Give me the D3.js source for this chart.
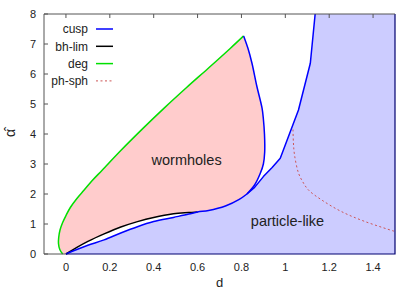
<!DOCTYPE html>
<html>
<head>
<meta charset="utf-8">
<script src="https://cdn.jsdelivr.net/npm/d3@7"></script>
<style>
  body { margin: 0; background: #fff; }
  text { font-family: "Liberation Sans", Arial, Helvetica, sans-serif; fill: #222; }
</style>
</head>
<body>
<div id="chart"></div>
<script>
// data: [d, alpha-hat]
let degCurve = [[-0.015, 0], [-0.028, 0.15], [-0.034, 0.35], [-0.033, 0.55], [-0.027, 0.8],
  [-0.015, 1.05], [0.0, 1.28], [0.02, 1.55], [0.05, 1.85], [0.083, 2.13], [0.12, 2.45],
  [0.166, 2.8], [0.25, 3.45], [0.35, 4.18], [0.45, 4.88], [0.55, 5.55], [0.65, 6.2],
  [0.75, 6.86], [0.81, 7.27]];
let bhCurve = [[0, 0], [0.05, 0.22], [0.1, 0.42], [0.174, 0.67], [0.25, 0.9], [0.326, 1.08],
  [0.4, 1.22], [0.49, 1.34], [0.56, 1.38], [0.6, 1.4]];
let cuspLow = [[0, 0], [0.05, 0.15], [0.1, 0.29], [0.174, 0.47], [0.25, 0.7], [0.326, 0.91],
  [0.4, 1.08], [0.49, 1.22], [0.56, 1.33], [0.6, 1.4], [0.65, 1.45], [0.727, 1.6],
  [0.79, 1.82], [0.825, 2.0]];
let cuspInner = [[0.825, 2.0], [0.86, 2.3], [0.886, 2.69], [0.9, 3.0], [0.906, 3.4], [0.905, 4.0],
  [0.9, 4.5], [0.894, 4.86], [0.87, 5.6], [0.848, 6.36], [0.83, 6.85], [0.81, 7.27]];
let cuspOuter = [[0.825, 2.0], [0.86, 2.22], [0.9, 2.58], [0.94, 2.88], [0.977, 3.19],
  [1.06, 4.8], [1.114, 6.36], [1.136, 8]];
let phCurve = [[1.035, 4.15], [1.037, 3.7], [1.042, 3.3], [1.06, 2.7], [1.08, 2.4], [1.106, 2.13],
  [1.166, 1.8], [1.257, 1.41], [1.364, 1.08], [1.5, 0.75]];

let xTicks = [0, 0.2, 0.4, 0.6, 0.8, 1, 1.2, 1.4];
let yTicks = [0, 1, 2, 3, 4, 5, 6, 7, 8];
let legendNames = ["cusp", "bh-lim", "deg", "ph-sph"];
let legendColors = ["#0000ff", "#000000", "#00e000", "#cc5555"];

let svgWidth = 417;
let svgHeight = 292;
let margin = { top: 14, right: 22, bottom: 38, left: 44 };
let width = svgWidth - margin.left - margin.right;
let height = svgHeight - margin.top - margin.bottom;

let svg = d3.select("#chart").append("svg")
    .attr("width", svgWidth)
    .attr("height", svgHeight);

let g = svg.append("g")
    .attr("transform", `translate(${margin.left}, ${margin.top})`);

let x = d3.scaleLinear().domain([-0.1, 1.5]).range([0, width]);
let y = d3.scaleLinear().domain([0, 8]).range([height, 0]);

let smooth = d3.line().x(p => x(p[0])).y(p => y(p[1])).curve(d3.curveCatmullRom);
let straight = d3.line().x(p => x(p[0])).y(p => y(p[1]));

// join several path strings into one outline
function joinPaths(parts) {
  return parts.map((s, i) => i === 0 ? s : s.replace(/^M/, "L")).join("") + "Z";
}

// particle-like region
let blueRegion = joinPaths([
  smooth(cuspLow),
  straight(cuspOuter),
  straight([[1.5, 8], [1.5, 0], [0, 0]])
]);
g.append("path").attr("d", blueRegion).attr("fill", "#ccccff");

// wormhole region
let lowTail = cuspLow.filter(p => p[0] >= 0.6).reverse();
let pinkRegion = joinPaths([
  smooth(degCurve),
  smooth(cuspInner.slice().reverse()),
  smooth(lowTail),
  smooth(bhCurve.slice().reverse())
]);
g.append("path").attr("d", pinkRegion).attr("fill", "#ffcccc");

// curves
function drawLine(pts, gen, color, dash) {
  let p = g.append("path")
    .attr("d", gen(pts))
    .attr("fill", "none")
    .attr("stroke", color)
    .attr("stroke-width", 1.5)
    .attr("stroke-linejoin", "round");
  if (dash) p.attr("stroke-dasharray", dash).attr("stroke-width", 1);
  return p;
}
drawLine(bhCurve, smooth, legendColors[1]);
drawLine(degCurve, smooth, legendColors[2]);
drawLine(cuspLow, smooth, legendColors[0]);
drawLine(cuspInner, smooth, legendColors[0]);
drawLine(cuspOuter, straight, legendColors[0]);
drawLine(phCurve, smooth, legendColors[3], "2,2.5");

// border of filled area along bottom and right
g.append("path")
  .attr("d", straight([[0, 0], [1.5, 0], [1.5, 8]]))
  .attr("fill", "none")
  .attr("stroke", "#000070")
  .attr("stroke-width", 1.2);

// frame, gnuplot style ticks
let frameColor = "#555";
g.append("path")
  .attr("d", `M${x(0)},${height}H0V0H${width}`)
  .attr("fill", "none")
  .attr("stroke", frameColor)
  .attr("stroke-width", 1);

let tickLen = 4;
xTicks.forEach(t => {
  g.append("line").attr("x1", x(t)).attr("x2", x(t)).attr("y1", 0).attr("y2", tickLen)
    .attr("stroke", frameColor);
  g.append("text")
    .attr("x", x(t)).attr("y", height + 17)
    .attr("text-anchor", "middle")
    .style("font-size", "11px")
    .text(t);
});
yTicks.forEach(t => {
  g.append("line").attr("x1", 0).attr("x2", tickLen).attr("y1", y(t)).attr("y2", y(t))
    .attr("stroke", frameColor);
  g.append("text")
    .attr("x", -8).attr("y", y(t)).attr("dy", "0.35em")
    .attr("text-anchor", "end")
    .style("font-size", "11px")
    .text(t);
});

// axis labels
g.append("text")
  .attr("x", x(0.7)).attr("y", height + 33)
  .attr("text-anchor", "middle")
  .style("font-size", "13px")
  .text("d");
svg.append("text")
  .attr("transform", `translate(15, 133) rotate(-90)`)
  .attr("text-anchor", "middle")
  .style("font-size", "14px")
  .text("\u03B1\u0302");

// region labels
g.append("text")
  .attr("x", x(0.55)).attr("y", y(2.97))
  .attr("text-anchor", "middle")
  .style("font-size", "14.5px")
  .text("wormholes");
g.append("text")
  .attr("x", x(1.01)).attr("y", y(0.93))
  .attr("text-anchor", "middle")
  .style("font-size", "14.5px")
  .text("particle-like");

// legend
let legend = svg.append("g");
legendNames.forEach((name, i) => {
  let ly = 29 + i * 17.3;
  legend.append("text")
    .attr("x", 88).attr("y", ly).attr("dy", "0.35em")
    .attr("text-anchor", "end")
    .style("font-size", "12px")
    .text(name);
  let ln = legend.append("line")
    .attr("x1", 96).attr("x2", 113).attr("y1", ly).attr("y2", ly)
    .attr("stroke", legendColors[i])
    .attr("stroke-width", i === 3 ? 1 : 1.5);
  if (i === 3) ln.attr("stroke-dasharray", "2,2.5");
});
</script>
</body>
</html>
